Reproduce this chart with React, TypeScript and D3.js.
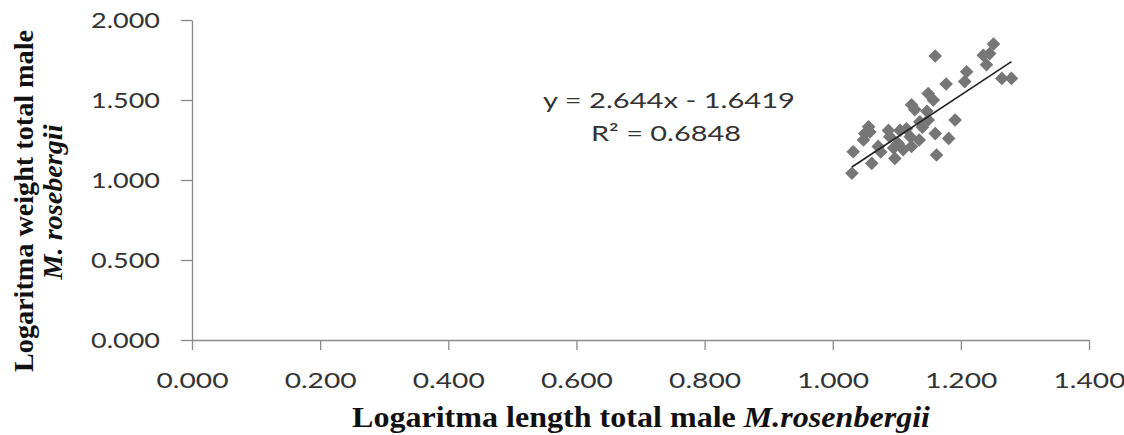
import React, { useEffect, useRef } from 'react';
import * as d3 from 'd3';

// log length (x) / log weight (y) of male M. rosenbergii
const logLength = [
  1.030, 1.032, 1.048, 1.050, 1.056, 1.058, 1.061, 1.071, 1.075, 1.087,
  1.089, 1.097, 1.102, 1.105, 1.110, 1.121, 1.123, 1.123, 1.128, 1.136,
  1.147, 1.149, 1.149, 1.157, 1.160, 1.160, 1.162, 1.177, 1.181, 1.191,
  1.206, 1.209, 1.235, 1.251, 1.240, 1.264, 1.279, 1.115, 1.135, 1.095,
  1.140, 1.245,
];
const logWeight = [
  1.042, 1.177, 1.250, 1.290, 1.333, 1.300, 1.104, 1.210, 1.175, 1.310,
  1.270, 1.135, 1.230, 1.310, 1.190, 1.270, 1.210, 1.470, 1.440, 1.364,
  1.430, 1.540, 1.375, 1.500, 1.775, 1.290, 1.156, 1.600, 1.260, 1.375,
  1.615, 1.677, 1.780, 1.850, 1.720, 1.635, 1.635, 1.320, 1.250, 1.200,
  1.330, 1.790,
];

const xTicks = [0, 0.2, 0.4, 0.6, 0.8, 1.0, 1.2, 1.4];
const yTicks = [0, 0.5, 1.0, 1.5, 2.0];

const slope = 2.644;
const intercept = -1.6419;
const equationText = 'y = 2.644x - 1.6419';
const r2Text = 'R² = 0.6848';

const W = 1124;
const H = 435;

export default function App() {
  const ref = useRef<SVGSVGElement>(null);

  useEffect(() => {
    if (!ref.current) return;
    const svg = d3.select(ref.current);
    svg.selectAll('*').remove();

    const x = d3.scaleLinear().domain([0, 1.4]).range([192, 1089]);
    const y = d3.scaleLinear().domain([0, 2]).range([340, 20]);
    const fmt = d3.format('.3f');
    const sans = 'Lato, "Open Sans", sans-serif';
    const serif = '"Liberation Serif", "DejaVu Serif", serif';

    // y axis
    const gy = svg.append('g').attr('transform', `translate(${x(0)},0)`)
      .call(d3.axisLeft(y).tickValues(yTicks).tickFormat(d => fmt(+d)).tickSize(11).tickSizeOuter(0));
    gy.select('.domain').attr('stroke', '#8a8a8a').attr('stroke-width', 1.3);
    gy.selectAll('.tick line').attr('stroke', '#8a8a8a').attr('stroke-width', 1.3);
    gy.selectAll('.tick text')
      .attr('x', -32).attr('dy', '0.36em')
      .attr('font-family', sans).attr('font-size', 21).attr('fill', '#333')
      .attr('textLength', 69).attr('lengthAdjust', 'spacingAndGlyphs');

    // x axis
    const gx = svg.append('g').attr('transform', `translate(0,${y(0)})`)
      .call(d3.axisBottom(x).tickValues(xTicks).tickFormat(d => fmt(+d)).tickSize(10).tickSizeOuter(0));
    gx.select('.domain').attr('stroke', '#8a8a8a').attr('stroke-width', 1.3);
    gx.selectAll('.tick line').attr('stroke', '#8a8a8a').attr('stroke-width', 1.3);
    gx.selectAll('.tick text')
      .attr('y', 48).attr('dy', 0)
      .attr('font-family', sans).attr('font-size', 21).attr('fill', '#333')
      .attr('textLength', 72).attr('lengthAdjust', 'spacingAndGlyphs');

    // points
    const pts = logLength.map((v, i) => [v, logWeight[i]] as [number, number]);
    const r = 6.8;
    svg.append('g').selectAll('path').data(pts).join('path')
      .attr('d', d => {
        const cx = x(d[0]);
        const cy = y(d[1]);
        return `M${cx},${cy - r}L${cx + r},${cy}L${cx},${cy + r}L${cx - r},${cy}Z`;
      })
      .attr('fill', '#767676');

    // linear trendline across the data range
    const [x0, x1] = d3.extent(logLength) as [number, number];
    svg.append('line')
      .attr('x1', x(x0)).attr('y1', y(slope * x0 + intercept))
      .attr('x2', x(x1)).attr('y2', y(slope * x1 + intercept))
      .attr('stroke', '#222').attr('stroke-width', 1.6);

    // equation labels
    svg.append('text').attr('x', 669).attr('y', 108).attr('text-anchor', 'middle')
      .attr('font-family', sans).attr('font-size', 22).attr('fill', '#333')
      .attr('textLength', 252).attr('lengthAdjust', 'spacingAndGlyphs')
      .text(equationText);
    svg.append('text').attr('x', 666).attr('y', 141).attr('text-anchor', 'middle')
      .attr('font-family', sans).attr('font-size', 22).attr('fill', '#333')
      .attr('textLength', 150).attr('lengthAdjust', 'spacingAndGlyphs')
      .text(r2Text);

    // x title
    const xt = svg.append('text').attr('x', 641).attr('y', 427).attr('text-anchor', 'middle')
      .attr('font-family', serif).attr('font-size', 30).attr('font-weight', 'bold').attr('fill', '#111')
      .attr('textLength', 578).attr('lengthAdjust', 'spacingAndGlyphs');
    xt.append('tspan').text('Logaritma length total male ');
    xt.append('tspan').attr('font-style', 'italic').text('M.rosenbergii');

    // y title (two lines)
    svg.append('text').attr('transform', 'translate(33,201) rotate(-90)').attr('text-anchor', 'middle')
      .attr('font-family', serif).attr('font-size', 27).attr('font-weight', 'bold').attr('fill', '#111')
      .attr('textLength', 342).attr('lengthAdjust', 'spacingAndGlyphs')
      .text('Logaritma weight total male');
    svg.append('text').attr('transform', 'translate(62,202) rotate(-90)').attr('text-anchor', 'middle')
      .attr('font-family', serif).attr('font-size', 27).attr('font-weight', 'bold').attr('font-style', 'italic')
      .attr('fill', '#111')
      .attr('textLength', 155).attr('lengthAdjust', 'spacingAndGlyphs')
      .text('M. rosebergii');
  }, []);

  return (
    <svg
      ref={ref}
      width={W}
      height={H}
      style={{ position: 'absolute', left: 0, top: 0, background: '#fff' }}
    />
  );
}
